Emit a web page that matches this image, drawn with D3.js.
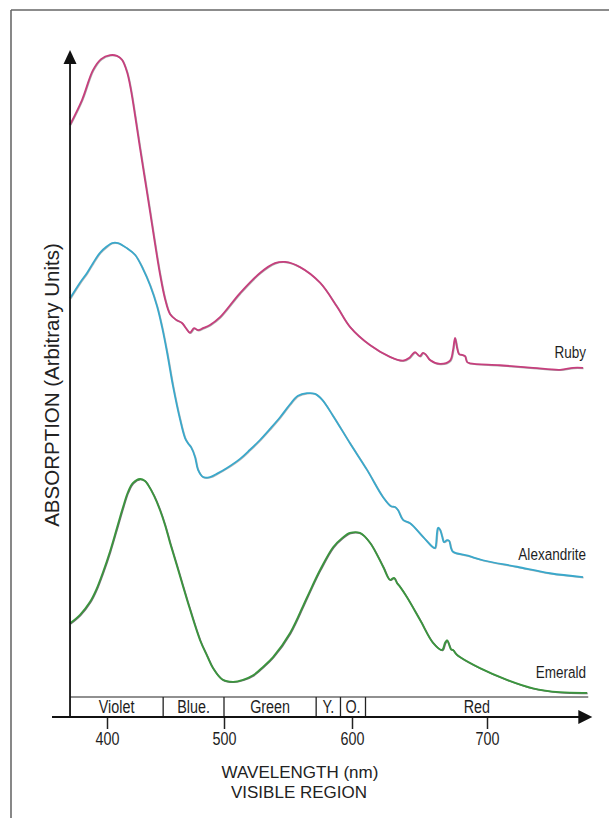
<!DOCTYPE html>
<html>
<head>
<meta charset="utf-8">
<script src="https://cdn.jsdelivr.net/npm/d3@7"></script>
<style>
  html, body { margin: 0; padding: 0; background: #fff; }
  svg { display: block; }
  text { font-family: "Liberation Sans", Arial, Helvetica, sans-serif; }
</style>
</head>
<body>
<svg id="chart" width="609" height="818"></svg>
<script>
// Wavelength in nm, absorption in arbitrary units (0-100)
const rubyWavelength = [368.4, 378.6, 388.0, 394.9, 402.6, 408.5, 412.8, 417.1, 420.5, 423.9, 428.2, 432.5, 436.8, 441.0, 445.3, 449.6, 453.8, 459.0, 464.1, 467.5, 470.9, 474.4, 477.8, 482.1, 488.0, 496.6, 512.5, 528.1, 539.8, 547.7, 559.4, 575.0, 588.3, 598.4, 613.3, 628.1, 637.8, 642.2, 644.4, 646.7, 648.9, 650.4, 652.6, 654.8, 657.8, 665.2, 672.6, 674.8, 676.3, 677.8, 679.3, 681.5, 683.7, 685.2, 687.4, 709.6, 734.1, 754.1, 763.7, 771.1];
const rubyAbsorption = [88.5, 92.3, 96.9, 98.6, 99.2, 99.1, 98.5, 96.6, 93.8, 90.0, 84.9, 80.0, 75.1, 70.2, 65.5, 61.7, 59.4, 58.5, 58.0, 57.2, 56.5, 57.2, 56.9, 57.2, 57.7, 58.9, 62.6, 65.7, 67.2, 67.4, 66.6, 64.2, 60.5, 57.4, 54.6, 52.8, 52.2, 52.6, 53.1, 53.5, 53.1, 52.9, 53.4, 53.1, 52.3, 51.7, 52.2, 53.8, 55.7, 54.2, 53.2, 53.1, 52.9, 52.0, 51.8, 51.5, 51.1, 50.8, 51.1, 51.1];

const alexWavelength = [368.4, 376.9, 382.9, 388.0, 394.0, 400.0, 404.3, 409.4, 417.1, 423.9, 430.8, 436.8, 442.7, 447.0, 451.3, 456.4, 462.4, 466.7, 469.2, 471.8, 475.2, 477.8, 482.1, 488.0, 494.9, 502.3, 512.5, 520.3, 528.1, 535.9, 543.8, 551.6, 557.8, 564.8, 571.1, 576.6, 585.2, 598.4, 611.1, 623.0, 628.9, 631.9, 634.1, 637.8, 643.0, 652.6, 660.0, 661.5, 663.0, 663.7, 665.2, 666.7, 668.1, 670.4, 671.9, 673.3, 674.8, 685.9, 697.0, 722.2, 746.7, 771.1];
const alexAbsorption = [61.8, 64.2, 65.7, 67.2, 68.8, 69.8, 70.3, 70.3, 69.5, 68.5, 66.3, 63.8, 60.6, 57.4, 53.5, 48.3, 43.2, 40.3, 39.5, 38.9, 37.4, 35.4, 34.3, 34.3, 34.9, 35.7, 37.1, 38.5, 40.0, 41.7, 43.5, 45.5, 46.8, 47.2, 47.1, 46.2, 43.7, 39.5, 35.4, 31.2, 29.8, 29.7, 29.2, 27.7, 27.2, 25.1, 23.5, 23.4, 25.8, 26.5, 26.2, 25.2, 24.3, 24.6, 24.5, 23.4, 22.8, 22.2, 21.5, 20.5, 19.5, 18.9];

const emeraldWavelength = [368.4, 376.9, 385.5, 390.6, 396.6, 402.6, 408.5, 413.7, 417.9, 422.2, 428.2, 432.5, 435.0, 440.2, 445.3, 449.6, 453.8, 459.8, 468.4, 479.5, 485.5, 490.6, 498.3, 507.0, 514.8, 522.7, 530.5, 538.3, 551.6, 564.8, 575.0, 585.2, 592.2, 598.4, 605.9, 613.3, 623.0, 628.1, 631.1, 633.3, 635.6, 640.7, 650.4, 660.0, 666.7, 668.9, 670.4, 671.9, 673.3, 674.8, 677.0, 680.0, 694.8, 714.8, 734.1, 754.1, 774.1];
const emeraldAbsorption = [11.8, 13.1, 15.1, 16.9, 19.7, 22.9, 26.5, 29.7, 32.0, 33.4, 34.0, 33.7, 33.1, 31.4, 29.2, 26.9, 24.2, 20.6, 15.4, 9.2, 6.8, 4.9, 3.2, 2.8, 3.1, 3.8, 5.1, 6.6, 10.3, 15.8, 20.0, 23.5, 24.9, 25.7, 25.7, 24.2, 20.5, 18.5, 18.8, 18.0, 17.4, 15.8, 12.3, 8.8, 7.7, 8.8, 9.2, 8.5, 7.8, 7.7, 7.1, 6.6, 4.9, 3.1, 1.8, 1.2, 1.1];

const seriesNames = ["Ruby", "Alexandrite", "Emerald"];
const seriesColors = ["#c63f7d", "#3aa8cb", "#3b953e"];
// strength of the dark key-line printed under each coloured trace
const seriesInk = [0.35, 0.3, 0.6];

const tickValues = [400, 500, 600, 700];
const tickLabels = ["400", "500", "600", "700"];

// Visible-region colour bands (nm)
const bandNames = ["Violet", "Blue.", "Green", "Y.", "O.", "Red"];
const bandEdges = [368.4, 448, 500, 572, 591, 610, 775];

const xDomainStart = 353;   // left end of the wavelength axis line
const xDomainEnd = 778;     // arrow tip of the wavelength axis

const svg = d3.select("#chart");
const narrow = 0.82;        // horizontal squeeze for the condensed lettering

// Printed wavelength scale is slightly stretched toward the red end
const x = d3.scaleLinear().domain(tickValues).range([107, 224, 352, 487]);
const y = d3.scaleLinear().domain([0, 100]).range([700, 50]);

const axisY = 717;
const yAxisX = x(bandEdges[0]);

function narrowText(parent, px, py, str, size, anchor) {
  return parent.append("text")
    .attr("transform", `translate(${px},${py}) scale(${narrow},1)`)
    .attr("text-anchor", anchor)
    .attr("font-size", size)
    .attr("fill", "#1e1e1e")
    .text(str);
}

// frame
svg.append("line").attr("x1", 11).attr("x2", 11).attr("y1", 10).attr("y2", 818)
  .attr("stroke", "#555").attr("stroke-width", 1.4);
svg.append("line").attr("x1", 11).attr("x2", 609).attr("y1", 10).attr("y2", 10)
  .attr("stroke", "#666").attr("stroke-width", 1.4);

// curves
const line = d3.line()
  .x(d => x(d[0]))
  .y(d => y(d[1]))
  .curve(d3.curveCatmullRom.alpha(0.5));

const seriesData = [
  d3.zip(rubyWavelength, rubyAbsorption),
  d3.zip(alexWavelength, alexAbsorption),
  d3.zip(emeraldWavelength, emeraldAbsorption)
];

seriesData.forEach((pts, i) => {
  svg.append("path")
    .datum(pts)
    .attr("d", line)
    .attr("transform", "translate(0.6,0.5)")
    .attr("fill", "none")
    .attr("stroke", "#111")
    .attr("stroke-opacity", seriesInk[i])
    .attr("stroke-width", 1.6)
    .attr("stroke-linejoin", "round");
  svg.append("path")
    .datum(pts)
    .attr("d", line)
    .attr("fill", "none")
    .attr("stroke", seriesColors[i])
    .attr("stroke-width", 1.8)
    .attr("stroke-linejoin", "round");
});

// series labels at the red end
const labelY = [358, 560, 678];
seriesNames.forEach((name, i) => {
  narrowText(svg, 586, labelY[i], name, 16.5, "end");
});

// colour band strip above the axis
const band = svg.append("g");
const bandTop = 697;
band.append("line")
  .attr("x1", x(bandEdges[0])).attr("x2", x(bandEdges[bandEdges.length - 1]))
  .attr("y1", bandTop).attr("y2", bandTop)
  .attr("stroke", "#222").attr("stroke-width", 1.2);
bandEdges.slice(1, -1).forEach(e => {
  band.append("line")
    .attr("x1", x(e)).attr("x2", x(e))
    .attr("y1", bandTop).attr("y2", axisY)
    .attr("stroke", "#222").attr("stroke-width", 1.3);
});
bandNames.forEach((name, i) => {
  const cx = (x(bandEdges[i]) + x(bandEdges[i + 1])) / 2;
  narrowText(band, cx, 713, name, 17.5, "middle");
});

// x axis
const xAxis = d3.axisBottom(x)
  .tickValues(tickValues)
  .tickFormat((d, i) => tickLabels[i])
  .tickSize(12)
  .tickPadding(4);

const gx = svg.append("g")
  .attr("transform", `translate(0,${axisY})`)
  .call(xAxis);
gx.select(".domain").remove();
gx.selectAll(".tick line").attr("stroke", "#222").attr("stroke-width", 1.5);
gx.selectAll(".tick text")
  .attr("font-family", "Liberation Sans, Arial, sans-serif")
  .attr("font-size", 17.5)
  .attr("transform", `scale(${narrow},1)`)
  .attr("fill", "#1e1e1e");

svg.append("line")
  .attr("x1", x(xDomainStart)).attr("x2", x(xDomainEnd) - 10)
  .attr("y1", axisY).attr("y2", axisY)
  .attr("stroke", "#111").attr("stroke-width", 1.8);
const tipX = x(xDomainEnd);
svg.append("path")
  .attr("d", `M${tipX},${axisY} L${tipX - 14},${axisY - 7} L${tipX - 14},${axisY + 7} Z`)
  .attr("fill", "#111");

// y axis with arrow
const yTop = 50;
svg.append("line")
  .attr("x1", yAxisX).attr("x2", yAxisX)
  .attr("y1", yTop + 10).attr("y2", axisY)
  .attr("stroke", "#111").attr("stroke-width", 1.8);
svg.append("path")
  .attr("d", `M${yAxisX},${yTop} L${yAxisX - 6.5},${yTop + 14} L${yAxisX + 6.5},${yTop + 14} Z`)
  .attr("fill", "#111");

// axis titles
svg.append("text")
  .attr("x", 300).attr("y", 778)
  .attr("text-anchor", "middle")
  .attr("font-size", 17)
  .attr("fill", "#222")
  .text("WAVELENGTH (nm)");
svg.append("text")
  .attr("x", 299).attr("y", 798)
  .attr("text-anchor", "middle")
  .attr("font-size", 17)
  .attr("fill", "#222")
  .text("VISIBLE REGION");

svg.append("text")
  .attr("transform", "translate(59,385) rotate(-90)")
  .attr("text-anchor", "middle")
  .attr("font-size", 20.5)
  .attr("fill", "#222")
  .text("ABSORPTION (Arbitrary Units)");
</script>
</body>
</html>
